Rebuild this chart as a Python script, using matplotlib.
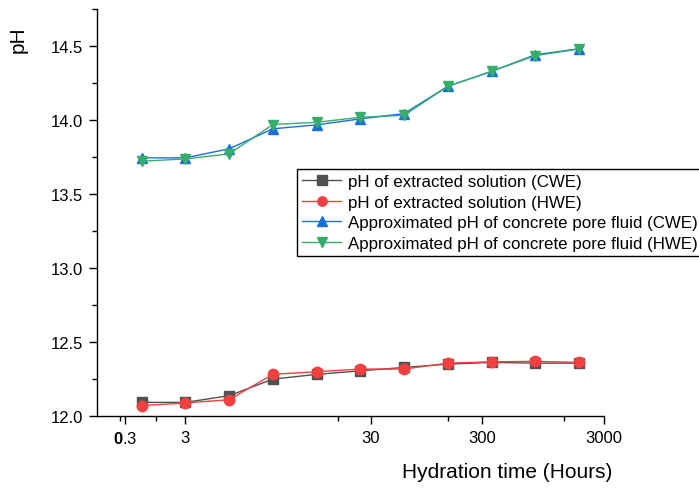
import numpy as np
import matplotlib
matplotlib.use("Agg")
import matplotlib.pyplot as plt
from matplotlib.ticker import MultipleLocator, FormatStrFormatter

plt.rcParams['font.family'] = ['Liberation Sans', 'DejaVu Sans']
plt.rcParams['mathtext.fontset'] = 'custom'
plt.rcParams['mathtext.rm'] = 'Liberation Sans'
plt.rcParams['mathtext.bf'] = 'Liberation Sans:bold'

# sampling points (equally spaced on the plot)
idx = np.arange(11)
ph_cwe = [12.094, 12.094, 12.139, 12.251, 12.283, 12.307, 12.330, 12.352, 12.364, 12.359, 12.359]
ph_hwe = [12.072, 12.090, 12.112, 12.283, 12.301, 12.319, 12.319, 12.359, 12.368, 12.371, 12.364]
pore_cwe = [13.745, 13.745, 13.806, 13.941, 13.968, 14.008, 14.044, 14.228, 14.329, 14.441, 14.482]
pore_hwe = [13.722, 13.738, 13.772, 13.970, 13.985, 14.019, 14.032, 14.228, 14.329, 14.435, 14.480]

xtick_labels = [r"$\mathbf{0}$.3", "3", "30", "300", "3000"]
labels = ["pH of extracted solution (CWE)",
          "pH of extracted solution (HWE)",
          "Approximated pH of concrete pore fluid (CWE)",
          "Approximated pH of concrete pore fluid (HWE)"]
colors = ["#515151", "#F14040", "#1A6FDF", "#37AD6B"]
markers = ["s", "o", "^", "v"]

fig = plt.figure(figsize=(6.99, 4.89), dpi=100)
ax = fig.add_axes([97/699, 1 - 417.3/489, (604 - 97)/699, (417.3 - 10)/489])

for ys, c, m, lab in zip([ph_cwe, ph_hwe, pore_cwe, pore_hwe], colors, markers, labels):
    ax.plot(idx, ys, color=c, marker=m, ms=7.5, lw=1, label=lab)

ax.set_xlim(-1.02, 10.57)
ax.set_ylim(12.0, 14.75)
ax.set_xticks([-0.38, 1.0, 5.24, 7.78, 10.57])
ax.set_xticklabels(xtick_labels)
ax.set_xticks([-0.5, 0.32, 4.5, 7.0, 9.66], minor=True)
ax.yaxis.set_major_locator(MultipleLocator(0.5))
ax.yaxis.set_minor_locator(MultipleLocator(0.25))
ax.yaxis.set_major_formatter(FormatStrFormatter('%.1f'))

for s in ['top', 'right']:
    ax.spines[s].set_visible(False)
for s in ['left', 'bottom']:
    ax.spines[s].set_linewidth(1.0)
ax.tick_params(which='major', direction='out', length=6, width=1, labelsize=12, pad=4)
ax.tick_params(which='minor', direction='out', length=3.5, width=1)

fig.text(612/699, 1 - 473/489, "Hydration time (Hours)", fontsize=15, ha='right', va='center')
fig.text(18/699, 1 - 40/489, "pH", fontsize=15, rotation=90, ha='center', va='center')

leg = ax.legend(loc='upper left', bbox_to_anchor=(297/699, 1 - 170/489),
                bbox_transform=fig.transFigure, fontsize=12.2, frameon=True,
                fancybox=False, edgecolor='black', framealpha=1,
                borderpad=0.3, handlelength=2.3, handletextpad=0.4,
                labelspacing=0.33, borderaxespad=0, markerscale=0.9)
leg.get_frame().set_linewidth(1.0)

fig.savefig("out.png", dpi=100)
